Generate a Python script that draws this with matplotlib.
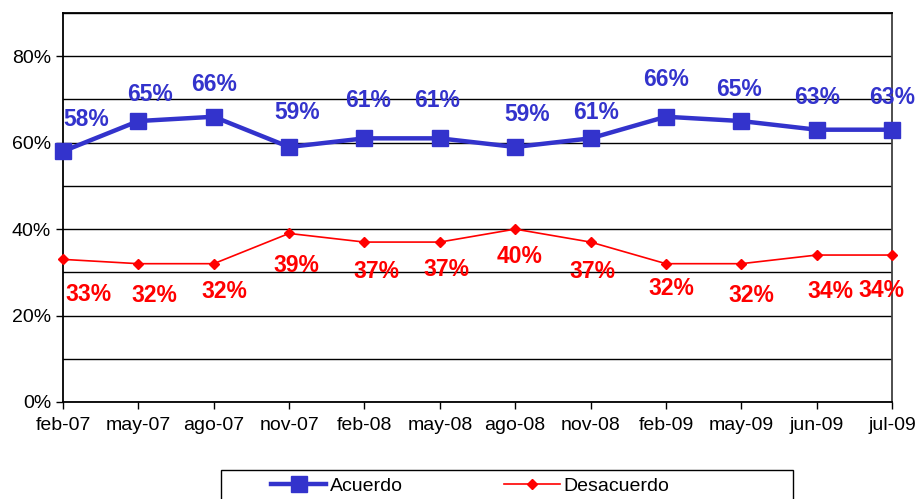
import matplotlib
matplotlib.use("Agg")
import matplotlib.pyplot as plt
from matplotlib.patches import Rectangle
from matplotlib.ticker import MultipleLocator, PercentFormatter

plt.rcParams["font.family"] = ["Liberation Sans", "DejaVu Sans"]

# Data
periods = ["feb-07", "may-07", "ago-07", "nov-07", "feb-08", "may-08",
           "ago-08", "nov-08", "feb-09", "may-09", "jun-09", "jul-09"]
acuerdo = [58, 65, 66, 59, 61, 61, 59, 61, 66, 65, 63, 63]
desacuerdo = [33, 32, 32, 39, 37, 37, 40, 37, 32, 32, 34, 34]

# label nudges (pixels) to mimic the spreadsheet placement
blue_dx = [23, 12, 0, 8, 4, -3, 12, 6, 0, -2, 0, 0]
blue_dy = [32, 27, 32, 34, 38, 38, 32, 26, 37, 32, 32, 32]
red_dx = [25, 16, 11, 7, 12, 7, 4, 2, 5, 10, 14, -11]
red_dy = [35, 32, 28, 32, 29, 27, 27, 29, 25, 32, 36, 35]

blue = "#3333CC"
red = "#FF0000"

fig = plt.figure(figsize=(9.19, 4.99), dpi=100)
ax = fig.add_axes([63 / 919, 1 - 402 / 499, (892 - 63) / 919, (402 - 13) / 499])

x = list(range(len(periods)))
ax.plot(x, acuerdo, color=blue, lw=3.2, marker="s", markersize=11.5,
        markerfacecolor=blue, markeredgecolor=blue, label="Acuerdo",
        clip_on=False, zorder=4)
ax.plot(x, desacuerdo, color=red, lw=1.2, marker="D", markersize=5,
        markerfacecolor=red, markeredgecolor=red, label="Desacuerdo",
        clip_on=False, zorder=4)

for i, v in enumerate(acuerdo):
    ax.annotate(f"{v}%", (i, v), xytext=(blue_dx[i], blue_dy[i]),
                textcoords="offset pixels", ha="center", va="center",
                color=blue, fontsize=16.5, fontweight="bold", zorder=5)
for i, v in enumerate(desacuerdo):
    ax.annotate(f"{v}%", (i, v), xytext=(red_dx[i], -red_dy[i]),
                textcoords="offset pixels", ha="center", va="center",
                color=red, fontsize=16.5, fontweight="bold", zorder=5)

ax.set_xlim(0, len(periods) - 1)
ax.set_ylim(0, 90)
ax.set_xticks(x)
ax.set_xticklabels(periods, fontsize=14)
ax.yaxis.set_major_locator(MultipleLocator(20))
ax.yaxis.set_minor_locator(MultipleLocator(10))
ax.yaxis.set_major_formatter(PercentFormatter(decimals=0))
ax.tick_params(axis="y", labelsize=14, direction="out", length=5, width=1)
ax.tick_params(axis="y", which="minor", length=0)
ax.tick_params(axis="x", direction="out", length=5, width=1, pad=6)
ax.grid(axis="y", which="both", color="black", lw=1)
ax.set_axisbelow(True)

for side in ["left", "bottom", "top"]:
    ax.spines[side].set_color("black")
    ax.spines[side].set_linewidth(1.3)
ax.spines["right"].set_color("#404040")
ax.spines["right"].set_linewidth(1.3)

# legend box runs off the bottom of the image, as in the original
fig.patches.append(Rectangle((221 / 919, -0.1), (793 - 221) / 919, 0.1 + 1 - 470 / 499,
                             transform=fig.transFigure, fill=False,
                             edgecolor="black", lw=1))
fig.legend(loc="upper left", ncol=2, bbox_to_anchor=(271 / 919, 1 - 477 / 499),
           fontsize=14, frameon=False, handlelength=2.85, borderpad=0,
           borderaxespad=0, handletextpad=0.2, columnspacing=5.2)

fig.savefig("out.png", dpi=100)
